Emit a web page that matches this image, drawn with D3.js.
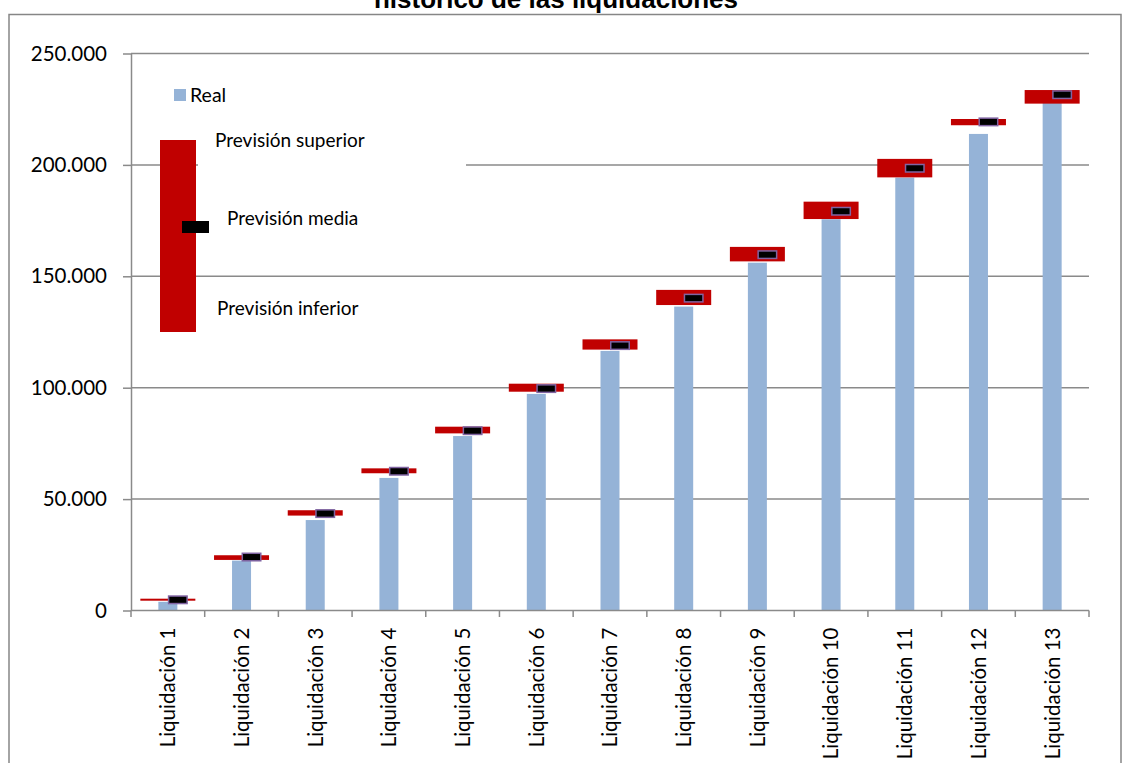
<!DOCTYPE html>
<html>
<head>
<meta charset="utf-8">
<script src="https://cdn.jsdelivr.net/npm/d3@7"></script>
<style>
  html, body { margin: 0; padding: 0; background: #fff; }
  svg { display: block; }
</style>
</head>
<body>
<script>
// ---- data ----
const categories = ["Liquidación 1","Liquidación 2","Liquidación 3","Liquidación 4","Liquidación 5","Liquidación 6","Liquidación 7","Liquidación 8","Liquidación 9","Liquidación 10","Liquidación 11","Liquidación 12","Liquidación 13"];
const realValues = [3900, 22400, 40600, 59500, 78300, 97200, 116500, 136400, 156100, 175600, 194300, 213900, 227800];
const upperValues = [5300, 24800, 45000, 63800, 82500, 101800, 121700, 143900, 163200, 183500, 202700, 220600, 233600];
const lowerValues = [4400, 22700, 42600, 61600, 79500, 98200, 117100, 137100, 156700, 175700, 194400, 217800, 227500];
const meanValues = [4800, 24000, 43500, 62500, 80700, 99600, 118900, 140200, 159700, 179200, 198500, 219300, 231500];
const yTicks = [0, 50000, 100000, 150000, 200000, 250000];
const titleText = "histórico de las liquidaciones";
const legendReal = "Real";
const legendSup = "Previsión superior";
const legendMed = "Previsión media";
const legendInf = "Previsión inferior";

const W = 1129, H = 763;
const svg = d3.select("body").append("svg").attr("width", W).attr("height", H);

const FONT = "Lato, 'Liberation Sans', Arial, sans-serif";
const GRID = "#8a8a8a";

const x = d3.scaleBand().domain(categories).range([131, 1089]).padding(0);
const y = d3.scaleLinear().domain([0, 250000]).range([610.5, 53.5]);
const idx = d3.scaleLinear().domain([0, categories.length]).range([131, 1089]);

const locale = d3.formatLocale({decimal: ",", thousands: ".", grouping: [3], currency: ["", ""]});
const fmt = locale.format(",");

// frame
svg.append("rect").attr("x", 9).attr("y", 14.5).attr("width", 1112).attr("height", 780)
  .attr("fill", "#fff").attr("stroke", "#868686").attr("stroke-width", 1.5);

// title (its upper part is cropped off in the reference as well)
svg.append("text").attr("x", 556).attr("y", 7.5).attr("text-anchor", "middle")
  .attr("font-family", "'Liberation Sans', Arial, sans-serif").attr("font-weight", "bold")
  .attr("font-size", 26).attr("fill", "#000").text(titleText);

// gridlines
svg.append("g").selectAll("line").data(yTicks.filter(d => d > 0)).join("line")
  .attr("x1", 131).attr("x2", 1089)
  .attr("y1", d => y(d)).attr("y2", d => y(d))
  .attr("stroke", GRID).attr("stroke-width", 1.5);

// legend white text box (hides grid)
svg.append("rect").attr("x", 198).attr("y", 126).attr("width", 268).attr("height", 46).attr("fill", "#fff");

// bars
const bw = 19;
svg.append("g").selectAll("rect").data(categories).join("rect")
  .attr("x", (d) => x(d) + x.bandwidth() / 2 - bw / 2)
  .attr("width", bw)
  .attr("y", (d, i) => y(realValues[i]))
  .attr("height", (d, i) => y(0) - y(realValues[i]))
  .attr("fill", "#95b3d7");

// forecast ranges
const rw = 55;
svg.append("g").selectAll("rect").data(categories).join("rect")
  .attr("x", (d) => x(d) + x.bandwidth() / 2 - rw / 2)
  .attr("width", rw)
  .attr("y", (d, i) => y(upperValues[i]))
  .attr("height", (d, i) => Math.max(2, y(lowerValues[i]) - y(upperValues[i])))
  .attr("fill", "#c00000");

// mean markers
svg.append("g").selectAll("rect").data(categories).join("rect")
  .attr("x", (d) => x(d) + x.bandwidth() / 2 + 0.75)
  .attr("width", 18.5)
  .attr("y", (d, i) => y(meanValues[i]) - 3.75)
  .attr("height", 7.5)
  .attr("fill", "#000").attr("stroke", "#8064a2").attr("stroke-width", 1.5);

// y axis
const yAxis = d3.axisLeft(y).tickValues(yTicks).tickFormat(fmt).tickSize(8).tickSizeOuter(0).tickPadding(16);
const gy = svg.append("g").attr("transform", "translate(131,0)").call(yAxis);
gy.select(".domain").attr("stroke", GRID).attr("stroke-width", 1.5);
gy.selectAll(".tick line").attr("stroke", GRID).attr("stroke-width", 1.5);
gy.selectAll(".tick text").attr("font-family", FONT).attr("font-size", 20.5).attr("fill", "#000");

// x axis
const gx = svg.append("g").attr("transform", "translate(0,610.5)");
gx.append("line").attr("x1", 131).attr("x2", 1089).attr("y1", 0).attr("y2", 0)
  .attr("stroke", GRID).attr("stroke-width", 1.5);
gx.selectAll("line.tk").data(d3.range(categories.length + 1)).join("line").attr("class", "tk")
  .attr("x1", d => idx(d)).attr("x2", d => idx(d)).attr("y1", 0).attr("y2", 6.5)
  .attr("stroke", GRID).attr("stroke-width", 1.5);
gx.selectAll("text").data(categories).join("text")
  .attr("transform", d => `translate(${x(d) + x.bandwidth() / 2},17) rotate(-90)`)
  .attr("text-anchor", "end").attr("dy", "0.36em")
  .attr("font-family", FONT).attr("font-size", 20.5).attr("fill", "#000")
  .text(d => d);

// legend
svg.append("rect").attr("x", 174).attr("y", 89).attr("width", 12).attr("height", 12).attr("fill", "#95b3d7");
svg.append("text").attr("x", 190).attr("y", 95).attr("dy", "0.35em")
  .attr("font-family", FONT).attr("font-size", 19.5).attr("fill", "#000").text(legendReal);

svg.append("rect").attr("x", 160).attr("y", 140).attr("width", 36).attr("height", 192).attr("fill", "#c00000");
svg.append("rect").attr("x", 182).attr("y", 221).attr("width", 27).attr("height", 12).attr("fill", "#000");
svg.append("text").attr("x", 215).attr("y", 147).attr("font-family", FONT).attr("font-size", 19).attr("fill", "#000").text(legendSup);
svg.append("text").attr("x", 227).attr("y", 225).attr("font-family", FONT).attr("font-size", 19).attr("fill", "#000").text(legendMed);
svg.append("text").attr("x", 217).attr("y", 315).attr("font-family", FONT).attr("font-size", 19).attr("fill", "#000").text(legendInf);
</script>
</body>
</html>
